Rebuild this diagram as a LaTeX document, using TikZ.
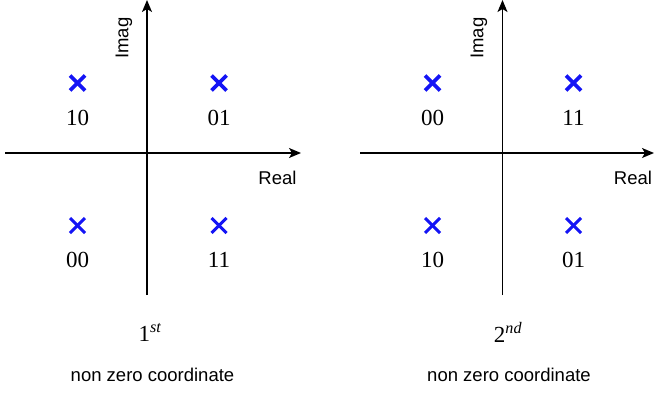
\documentclass[tikz,border=0pt]{standalone}
\usepackage{fontspec}
\setmainfont{Liberation Serif}
\setsansfont{Liberation Sans}
\usetikzlibrary{arrows.meta,calc}
\definecolor{markblue}{RGB}{20,20,245}
\tikzset{
  axis/.style={line width=1.4pt,-{Stealth[length=12pt,width=10pt,inset=3pt]}},
  lbl/.style={inner sep=0pt,font=\fontsize{23}{23}\selectfont},
  axlbl/.style={inner sep=0pt,font=\sffamily\fontsize{18.5}{18.5}\selectfont},
}
\newcommand{\mycross}[3]{% name, position, thickness
  \coordinate (#1) at #2;
  \draw[markblue,line width=#3] ($(#1)+(-7.5pt,-7.5pt)$) -- ($(#1)+(7.5pt,7.5pt)$);
  \draw[markblue,line width=#3] ($(#1)+(-7.5pt,7.5pt)$) -- ($(#1)+(7.5pt,-7.5pt)$);
}
\begin{document}
\begin{tikzpicture}[x=1pt,y=-1pt]
\useasboundingbox (0,0) rectangle (654,396);
% left diagram
\coordinate (L1) at (5,153);
\coordinate (L2) at (301,153);
\coordinate (L3) at (147,295);
\coordinate (L4) at (147,0);
\draw[axis] (L1) -- (L2);
\draw[axis] (L3) -- (L4);
\node[axlbl] (lreal) at (277.5,177.5) {Real};
\node[axlbl,rotate=90] (limag) at (124,38) {Imag};
\mycross{la}{(77.5,83)}{3.8pt}
\mycross{lb}{(219,83)}{3.8pt}
\mycross{lc}{(77.5,225.5)}{3pt}
\mycross{ld}{(219,225.5)}{3pt}
\node[lbl] (lta) at (77.5,118) {10};
\node[lbl] (ltb) at (219,118) {01};
\node[lbl] (ltc) at (77.5,260) {00};
\node[lbl] (ltd) at (219,260) {11};
\node[lbl] (lord) at (150,332) {1\textsuperscript{\itshape st}};
\node[axlbl] (lnz) at (152.5,375) {non zero coordinate};
% right diagram
\coordinate (R1) at (360,153);
\coordinate (R2) at (654,153);
\coordinate (R3) at (502.5,295);
\coordinate (R4) at (502.5,0);
\draw[axis] (R1) -- (R2);
\draw[axis] (R3) -- (R4);
\node[axlbl] (rreal) at (633,177.5) {Real};
\node[axlbl,rotate=90] (rimag) at (479,38) {Imag};
\mycross{ra}{(432.5,83)}{3.8pt}
\mycross{rb}{(573.5,83)}{3.8pt}
\mycross{rc}{(432.5,225.5)}{3pt}
\mycross{rd}{(573.5,225.5)}{3pt}
\node[lbl] (rta) at (432.5,118) {00};
\node[lbl] (rtb) at (573.5,118) {11};
\node[lbl] (rtc) at (432.5,260) {10};
\node[lbl] (rtd) at (573.5,260) {01};
\node[lbl] (rord) at (508,332) {2\textsuperscript{\itshape nd}};
\node[axlbl] (rnz) at (509,375) {non zero coordinate};
\end{tikzpicture}
\end{document}
